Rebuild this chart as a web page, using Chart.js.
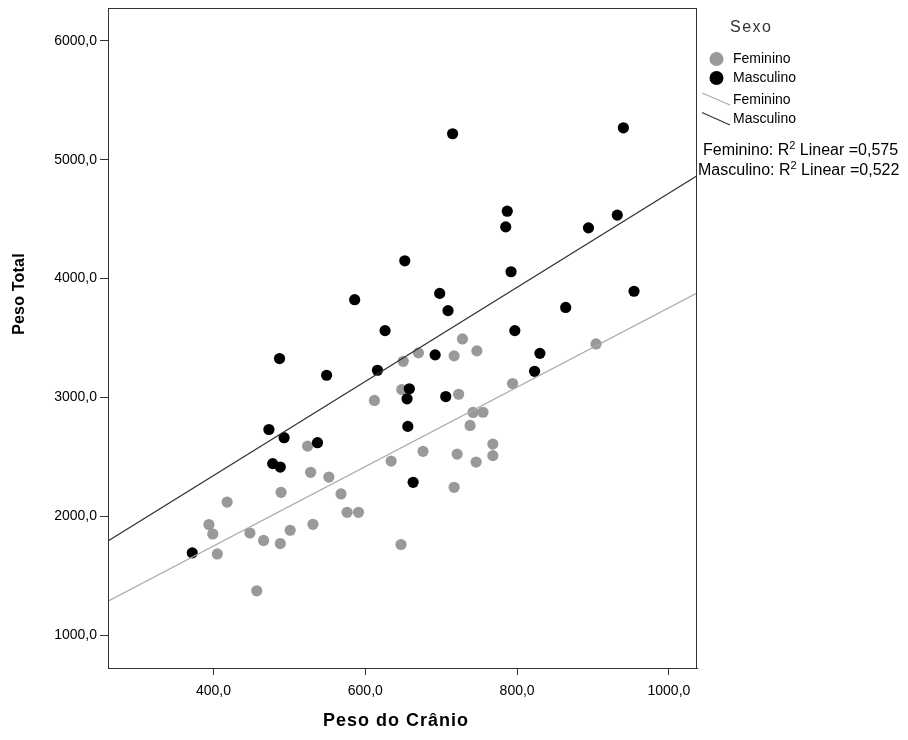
<!DOCTYPE html>
<html>
<head>
<meta charset="utf-8">
<script src="https://cdn.jsdelivr.net/npm/chart.js@4.4.1/dist/chart.umd.min.js"></script>
<style>
  html, body { margin: 0; padding: 0; background: #fff; }
  #wrap { width: 908px; height: 740px; position: relative; }
</style>
</head>
<body>
<div id="wrap"><canvas id="c" width="908" height="740"></canvas></div>
<script>
// ---- Data ----
const femX = [612,524,528,552,634,489,418,568,576,591,394,399,448,501,531,466,488,405,457,647,650,670,717,728,747,648,723,794,904,742,755,738,768,768,676,721,746,717];
const femY = [2976,2592,2372,2332,2466,2204,2122,2190,2036,2036,1933,1854,1862,1885,1935,1799,1773,1686,1376,1765,3305,3376,3351,3493,3393,3068,3028,3118,3451,2875,2877,2766,2609,2512,2548,2525,2458,2246];
const mascX = [715,940,787,785,894,932,652,792,586,698,954,709,626,797,864,487,549,616,692,830,823,658,655,706,656,473,493,537,478,488,663,372];
const mascY = [5218,5268,4567,4435,4427,4534,4150,4058,3823,3876,3894,3731,3563,3563,3758,3328,3188,3230,3359,3372,3221,3074,2990,3009,2758,2732,2663,2621,2445,2416,2288,1695];
// fit line endpoints
const femFitX = [261, 1037];
const femFitY = [1289, 3878];
const mascFitX = [261, 1037];
const mascFitY = [1795, 4865];
const xTicks = [400, 600, 800, 1000];
const yTicks = [1000, 2000, 3000, 4000, 5000, 6000];
const seriesNames = ['Feminino', 'Masculino'];
const r2Values = ['0,575', '0,522'];
const legendTitle = 'Sexo';
const xTitle = 'Peso do Crânio';
const yTitle = 'Peso Total';

const GRAY = '#999999';
const BLACK = '#000000';
const FONT = '"Liberation Sans", Arial, sans-serif';

const zip = (xs, ys) => xs.map((x, i) => ({ x, y: ys[i] }));
const fmt = v => Number(v).toFixed(1).replace('.', ',');

function setSpacing(ctx, v) { try { ctx.letterSpacing = v; } catch (e) {} }

const framePlugin = {
  id: 'frame',
  afterDraw(chart) {
    const { ctx, chartArea: a } = chart;
    ctx.save();
    ctx.strokeStyle = '#333';
    ctx.lineWidth = 1;
    ctx.strokeRect(Math.round(a.left) + 0.5, Math.round(a.top) + 0.5,
                   Math.round(a.right - a.left) - 1, Math.round(a.bottom - a.top));
    ctx.restore();
  }
};

const titlesPlugin = {
  id: 'axisTitles',
  afterDraw(chart) {
    const ctx = chart.ctx;
    ctx.save();
    ctx.fillStyle = '#000';
    ctx.textAlign = 'center';
    ctx.textBaseline = 'middle';
    ctx.font = 'bold 18px ' + FONT;
    setSpacing(ctx, '1px');
    ctx.fillText(xTitle, 396, 721);
    ctx.font = 'bold 16px ' + FONT;
    setSpacing(ctx, '0.2px');
    ctx.translate(20, 294);
    ctx.rotate(-Math.PI / 2);
    ctx.fillText(yTitle, 0, 0);
    ctx.restore();
  }
};

const legendPlugin = {
  id: 'spssLegend',
  afterDraw(chart) {
    const ctx = chart.ctx;
    ctx.save();
    ctx.textBaseline = 'middle';
    ctx.textAlign = 'left';
    // title
    ctx.fillStyle = '#333';
    ctx.font = '16px ' + FONT;
    setSpacing(ctx, '1.5px');
    ctx.fillText(legendTitle, 730, 28);
    setSpacing(ctx, '0px');
    ctx.font = '14px ' + FONT;
    // markers
    const markers = [[GRAY, 59], [BLACK, 78]];
    markers.forEach((m, i) => {
      ctx.beginPath();
      ctx.fillStyle = m[0];
      ctx.arc(716.5, m[1], 7, 0, Math.PI * 2);
      ctx.fill();
      ctx.fillStyle = '#000';
      ctx.fillText(seriesNames[i], 733, m[1]);
    });
    // lines
    const lines = [['#aaaaaa', 93, 105, 100], ['#333333', 112.5, 125, 119]];
    lines.forEach((l, i) => {
      ctx.beginPath();
      ctx.strokeStyle = l[0];
      ctx.lineWidth = 1.2;
      ctx.moveTo(702, l[1]);
      ctx.lineTo(730, l[2]);
      ctx.stroke();
      ctx.fillStyle = '#000';
      ctx.fillText(seriesNames[i], 733, l[3]);
    });
    // R2 texts
    const r2 = [[703, 151], [698, 171]];
    r2.forEach((p, i) => {
      let x = p[0];
      const y = p[1];
      ctx.font = '16px ' + FONT;
      const a = seriesNames[i] + ': R';
      ctx.fillText(a, x, y);
      x += ctx.measureText(a).width;
      ctx.font = '11px ' + FONT;
      ctx.fillText('2', x, y - 5);
      x += ctx.measureText('2').width;
      ctx.font = '16px ' + FONT;
      ctx.fillText(' Linear =' + r2Values[i], x, y);
    });
    ctx.restore();
  }
};

new Chart(document.getElementById('c'), {
  type: 'scatter',
  data: {
    datasets: [
      { type: 'line', label: 'fitF', data: zip(femFitX, femFitY), borderColor: '#aaaaaa', borderWidth: 1.2,
        pointRadius: 0, fill: false, order: 0 },
      { type: 'line', label: 'fitM', data: zip(mascFitX, mascFitY), borderColor: '#333333', borderWidth: 1.2,
        pointRadius: 0, fill: false, order: 0 },
      { label: 'Masculino', data: zip(mascX, mascY), backgroundColor: BLACK, borderWidth: 0,
        pointRadius: 5.6, pointHoverRadius: 5.6, order: 1 },
      { label: 'Feminino', data: zip(femX, femY), backgroundColor: GRAY, borderWidth: 0,
        pointRadius: 5.6, pointHoverRadius: 5.6, order: 2 }
    ]
  },
  options: {
    responsive: false,
    animation: false,
    events: [],
    layout: { padding: { top: 8, right: 211, left: 0, bottom: 0 } },
    plugins: { legend: { display: false }, tooltip: { enabled: false } },
    scales: {
      x: {
        type: 'linear', min: 261, max: 1037,
        afterFit(s) { s.height = 72; s.paddingLeft = 0; s.paddingRight = 0; },
        afterBuildTicks(s) { s.ticks = xTicks.map(v => ({ value: v })); },
        ticks: { callback: v => fmt(v), color: '#000', font: { family: FONT, size: 14 }, padding: 8, maxRotation: 0, autoSkip: false },
        grid: { drawOnChartArea: false, drawTicks: true, tickLength: 7, color: '#333', lineWidth: 1 },
        border: { display: true, color: '#333', width: 1 },
        title: { display: false }
      },
      y: {
        type: 'linear', min: 727, max: 6275,
        afterFit(s) { s.width = 108; s.paddingTop = 0; s.paddingBottom = 0; },
        afterBuildTicks(s) { s.ticks = yTicks.map(v => ({ value: v })); },
        ticks: { callback: v => fmt(v), color: '#000', font: { family: FONT, size: 14 }, padding: 3, autoSkip: false },
        grid: { drawOnChartArea: false, drawTicks: true, tickLength: 8, color: '#333', lineWidth: 1 },
        border: { display: true, color: '#333', width: 1 },
        title: { display: false }
      }
    }
  },
  plugins: [framePlugin, titlesPlugin, legendPlugin]
});
</script>
</body>
</html>
